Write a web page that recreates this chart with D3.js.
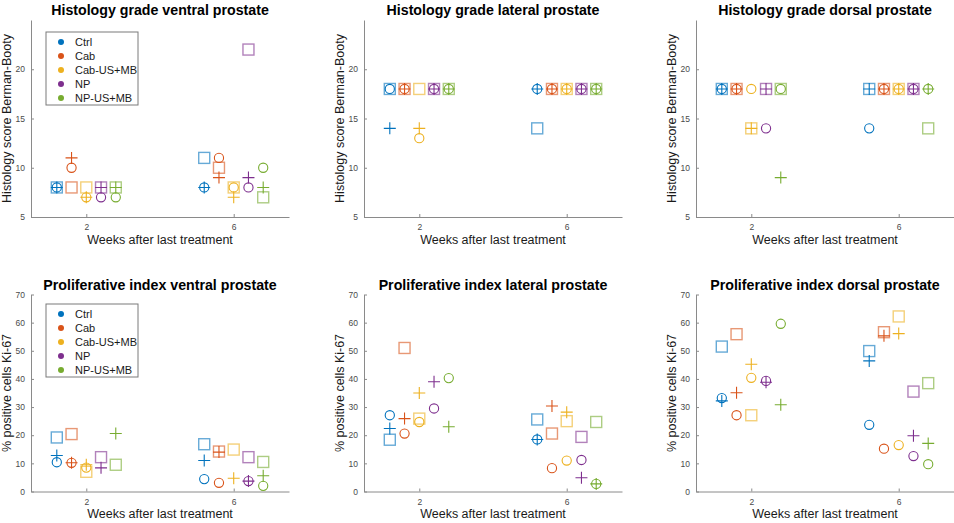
<!DOCTYPE html>
<html>
<head>
<meta charset="utf-8">
<script src="https://cdn.jsdelivr.net/npm/d3@7"></script>
<style>
  html, body { margin: 0; padding: 0; background: #fff; }
  svg { display: block; font-family: "Liberation Sans", Arial, sans-serif; }
</style>
</head>
<body>
<svg id="chart" width="954" height="523"></svg>
<script>
// Treatment groups and time points
const groups = ["Ctrl", "Cab", "Cab-US+MB", "NP", "NP-US+MB"];
const weeks = [2, 6];
const groupColors = ["#0072BD", "#D95319", "#EDB120", "#7E2F8E", "#77AC30"];

const histTicks = [5, 10, 15, 20];
const prolTicks = [0, 10, 20, 30, 40, 50, 60, 70];

// Per-animal values, rows = weeks, columns = groups (animal 1 = circle, 2 = plus, 3 = square)
const histVentralCircle = [[8, 10, 7, 7, 7], [8, 11, 8, 8, 10]];
const histVentralPlus   = [[8, 11, 7, 8, 8], [8, 9, 7, 9, 8]];
const histVentralSquare = [[8, 8, 8, 8, 8], [11, 10, 8, 22, 7]];

const histLateralCircle = [[18, 18, 13, 18, 18], [18, 18, 18, 18, 18]];
const histLateralPlus   = [[14, 18, 14, 18, 18], [18, 18, 18, 18, 18]];
const histLateralSquare = [[18, 18, 18, 18, 18], [14, 18, 18, 18, 18]];

const histDorsalCircle = [[18, 18, 18, 14, 18], [14, 18, 18, 18, 18]];
const histDorsalPlus   = [[18, 18, 14, 18, 9], [18, 18, 18, 18, 18]];
const histDorsalSquare = [[18, 18, 14, 18, 18], [18, 18, 18, 18, 14]];

const prolVentralCircle = [[10.4, 10.2, 8.5, null, null], [4.4, 3.1, null, 3.7, 2.0]];
const prolVentralPlus   = [[12.8, 10.2, 9.5, 8.4, 20.6], [11.0, 14.0, 4.7, 3.7, 5.6]];
const prolVentralSquare = [[19.2, 20.4, 7.0, 12.2, 9.5], [16.8, 14.2, 14.9, 12.2, 10.5]];

const prolLateralCircle = [[27.1, 20.6, 24.7, 29.5, 40.3], [18.5, 8.3, 11.0, 11.2, 2.7]];
const prolLateralPlus   = [[22.4, 25.9, 35.0, 39.0, 23.0], [18.5, 30.4, 28.2, 4.9, 2.7]];
const prolLateralSquare = [[18.4, 51.0, 25.9, null, null], [25.6, 20.6, 25.0, 19.4, 24.7]];

const prolDorsalCircle = [[33.2, 27.1, 40.4, 39.3, 59.6], [23.7, 15.2, 16.5, 12.6, 9.7]];
const prolDorsalPlus   = [[32.2, 35.1, 45.2, 38.8, 30.8], [46.4, 55.3, 56.1, 19.8, 17.1]];
const prolDorsalSquare = [[51.5, 55.9, 27.1, null, null], [49.9, 56.6, 62.2, 35.5, 38.5]];

const panels = [
  { title: "Histology grade ventral prostate", ylabel: "Histology score Berman-Booty",
    domain: [5, 25], ticks: histTicks, legend: true,
    circle: histVentralCircle, plus: histVentralPlus, square: histVentralSquare },
  { title: "Histology grade lateral prostate", ylabel: "Histology score Berman-Booty",
    domain: [5, 25], ticks: histTicks, legend: false,
    circle: histLateralCircle, plus: histLateralPlus, square: histLateralSquare },
  { title: "Histology grade dorsal prostate", ylabel: "Histology score Berman-Booty",
    domain: [5, 25], ticks: histTicks, legend: false,
    circle: histDorsalCircle, plus: histDorsalPlus, square: histDorsalSquare },
  { title: "Proliferative index ventral prostate", ylabel: "% positive cells Ki-67",
    domain: [0, 70], ticks: prolTicks, legend: true,
    circle: prolVentralCircle, plus: prolVentralPlus, square: prolVentralSquare },
  { title: "Proliferative index lateral prostate", ylabel: "% positive cells Ki-67",
    domain: [0, 70], ticks: prolTicks, legend: false,
    circle: prolLateralCircle, plus: prolLateralPlus, square: prolLateralSquare },
  { title: "Proliferative index dorsal prostate", ylabel: "% positive cells Ki-67",
    domain: [0, 70], ticks: prolTicks, legend: false,
    circle: prolDorsalCircle, plus: prolDorsalPlus, square: prolDorsalSquare }
];

// Grid layout of the six axes
const colLeft = [31, 364, 696];
const axW = 258;
const rowTop = [20, 294.5];
const rowBottom = [217, 491.5];
const titleY = [15, 290];
const xLabelY = [244, 518];
const legendTop = [32, 304];

const axisColor = "#8a8a8a";
const tickTextColor = "#4a4a4a";
const textColor = "#1a1a1a";

const svg = d3.select("#chart");

// horizontal spread of groups around each week
const groupOffset = d3.scalePoint().domain(groups).range([-0.8, 0.8]);

panels.forEach((p, i) => {
  const col = i % 3, row = Math.floor(i / 3);
  const left = colLeft[col], top = rowTop[row], bottom = rowBottom[row];

  const x = d3.scaleLinear().domain([0.5, 7.5]).range([left, left + axW]);
  const y = d3.scaleLinear().domain(p.domain).range([bottom, top]);

  const g = svg.append("g");

  // axes (ticks point inward)
  const xAxis = d3.axisBottom(x).tickValues(weeks).tickFormat(d3.format("d"))
    .tickSizeInner(-3).tickSizeOuter(0).tickPadding(7);
  const yAxis = d3.axisLeft(y).tickValues(p.ticks).tickFormat(d3.format("d"))
    .tickSizeInner(-3).tickSizeOuter(0).tickPadding(6);

  const gx = g.append("g").attr("transform", `translate(0,${bottom})`).call(xAxis);
  const gy = g.append("g").attr("transform", `translate(${left},0)`).call(yAxis);
  [gx, gy].forEach(a => {
    a.select(".domain").attr("stroke", axisColor).attr("stroke-width", 1);
    a.selectAll(".tick line").attr("stroke", axisColor);
    a.selectAll(".tick text").attr("fill", tickTextColor).attr("font-size", 8.5)
      .attr("font-family", "\"Liberation Sans\", Arial, sans-serif");
  });

  // titles and labels
  g.append("text").attr("x", left + axW / 2).attr("y", titleY[row])
    .attr("text-anchor", "middle").attr("font-weight", "bold").attr("font-size", 14.2)
    .attr("fill", "#000").text(p.title);
  g.append("text").attr("x", left + axW / 2).attr("y", xLabelY[row])
    .attr("text-anchor", "middle").attr("font-size", 12.5).attr("fill", textColor)
    .text("Weeks after last treatment");
  g.append("text")
    .attr("transform", `translate(${left - 20},${(top + bottom) / 2}) rotate(-90)`)
    .attr("text-anchor", "middle").attr("font-size", 12.5).attr("fill", textColor)
    .text(p.ylabel);

  // markers
  const points = [];
  weeks.forEach((w, wi) => {
    groups.forEach((grp, gi) => {
      ["circle", "plus", "square"].forEach(shape => {
        const v = p[shape][wi][gi];
        if (v !== null) points.push({ shape, cx: x(w + groupOffset(grp)), cy: y(v), color: groupColors[gi] });
      });
    });
  });

  const m = g.append("g");
  m.selectAll("rect.sq").data(points.filter(d => d.shape === "square")).join("rect")
    .attr("class", "sq")
    .attr("x", d => d.cx - 5.5).attr("y", d => d.cy - 5.5)
    .attr("width", 11).attr("height", 11)
    .attr("fill", "none").attr("stroke", d => d.color)
    .attr("stroke-width", 1.4).attr("stroke-opacity", 0.6);
  m.selectAll("circle.ci").data(points.filter(d => d.shape === "circle")).join("circle")
    .attr("class", "ci")
    .attr("cx", d => d.cx).attr("cy", d => d.cy).attr("r", 4.6)
    .attr("fill", "none").attr("stroke", d => d.color).attr("stroke-width", 1.1);
  m.selectAll("path.pl").data(points.filter(d => d.shape === "plus")).join("path")
    .attr("class", "pl")
    .attr("d", d => `M${d.cx - 6},${d.cy}H${d.cx + 6}M${d.cx},${d.cy - 6}V${d.cy + 6}`)
    .attr("fill", "none").attr("stroke", d => d.color).attr("stroke-width", 1.1);

  // legend
  if (p.legend) {
    const lx = left + 15, ly = legendTop[row];
    const lg = g.append("g");
    lg.append("rect").attr("x", lx).attr("y", ly).attr("width", 92).attr("height", 73)
      .attr("fill", "#fff").attr("stroke", "#7a7a7a").attr("stroke-width", 1);
    groups.forEach((grp, gi) => {
      const ry = ly + 10 + gi * 14;
      lg.append("circle").attr("cx", lx + 15).attr("cy", ry).attr("r", 3)
        .attr("fill", groupColors[gi]);
      lg.append("text").attr("x", lx + 29).attr("y", ry + 4)
        .attr("font-size", 11).attr("fill", textColor).text(grp);
    });
  }
});
</script>
</body>
</html>
